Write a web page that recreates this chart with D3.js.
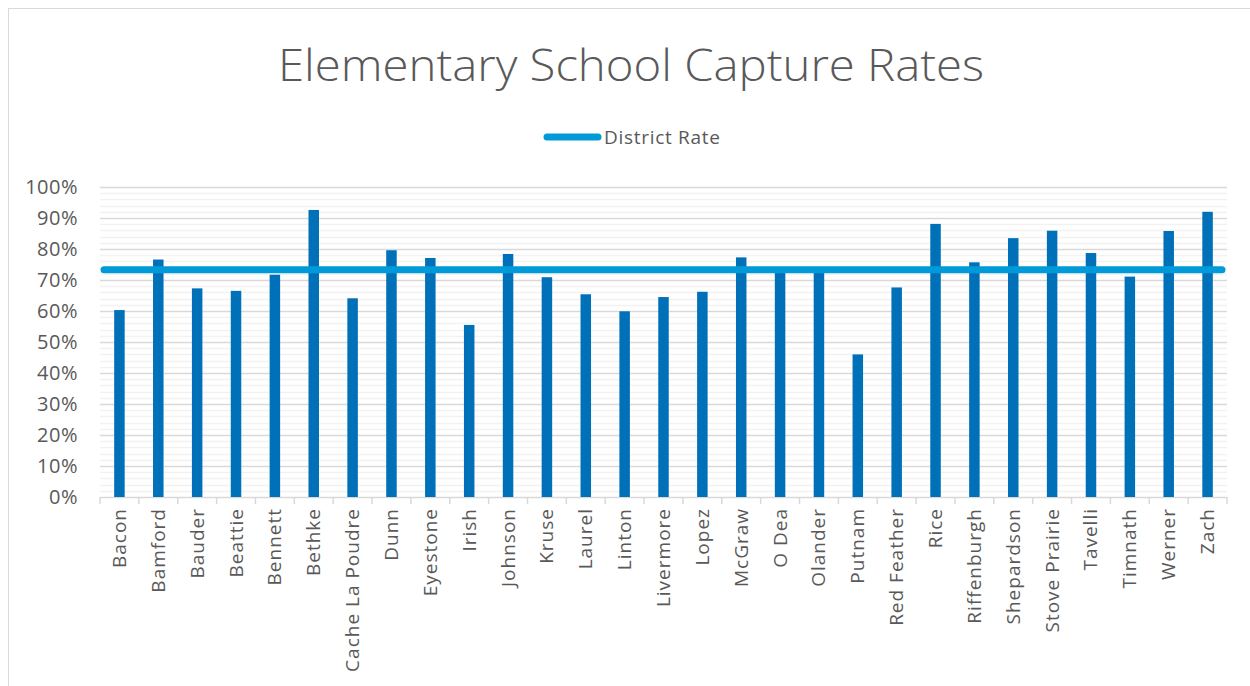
<!DOCTYPE html>
<html>
<head>
<meta charset="utf-8">
<script src="https://cdn.jsdelivr.net/npm/d3@7"></script>
<style>
  html, body { margin: 0; padding: 0; background: #fff; }
  svg { display: block; }
  text { font-family: "Open Sans", "Noto Sans", sans-serif; fill: #595959; }
</style>
</head>
<body>
<svg id="chart" width="1250" height="686"></svg>
<script>
const schools = ["Bacon","Bamford","Bauder","Beattie","Bennett","Bethke","Cache La Poudre","Dunn","Eyestone","Irish","Johnson","Kruse","Laurel","Linton","Livermore","Lopez","McGraw","O Dea","Olander","Putnam","Red Feather","Rice","Riffenburgh","Shepardson","Stove Prairie","Tavelli","Timnath","Werner","Zach"];
const captureRates = [60.3,76.6,67.3,66.5,71.7,92.6,64.1,79.6,77.1,55.5,78.4,70.9,65.4,59.9,64.5,66.2,77.3,73.0,73.0,46.0,67.6,88.1,75.7,83.5,85.9,78.7,71.1,85.8,92.0];
const districtRate = 73.3;
const majorTicks = [0,10,20,30,40,50,60,70,80,90,100];
const minorTicks = d3.range(0, 101, 2);
const titleText = "Elementary School Capture Rates";
const legendLabel = "District Rate";

const svg = d3.select("#chart");
const W = 1250, H = 686;
const plot = {left: 100, right: 1227, top: 187, bottom: 497};

// outer border
svg.append("rect").attr("x", 8.5).attr("y", 8.5).attr("width", W - 8).attr("height", H)
  .attr("fill", "none").attr("stroke", "#d9d9d9").attr("stroke-width", 1);

const x = d3.scaleBand().domain(schools).range([plot.left, plot.right]).paddingInner(0).paddingOuter(0);
const y = d3.scaleLinear().domain([0, 100]).range([plot.bottom, plot.top]);

// minor gridlines
svg.append("g").selectAll("line").data(minorTicks.filter(d => d % 10 !== 0)).join("line")
  .attr("x1", plot.left).attr("x2", plot.right)
  .attr("y1", d => Math.round(y(d)) + 0.5).attr("y2", d => Math.round(y(d)) + 0.5)
  .attr("stroke", "#f2f2f2").attr("stroke-width", 1.5);

// major gridlines
svg.append("g").selectAll("line").data(majorTicks.filter(d => d > 0)).join("line")
  .attr("x1", plot.left).attr("x2", plot.right)
  .attr("y1", d => Math.round(y(d)) + 0.5).attr("y2", d => Math.round(y(d)) + 0.5)
  .attr("stroke", "#d9d9d9").attr("stroke-width", 1.5);

// y axis labels
const yAxis = d3.axisLeft(y).tickValues(majorTicks).tickFormat(d => d + "%").tickSize(0).tickPadding(0);
const yg = svg.append("g").attr("transform", `translate(${plot.left - 22},0)`).call(yAxis);
yg.select(".domain").remove();
yg.selectAll("text").attr("font-size", 20).attr("letter-spacing", 0.5)
  .style("fill", "#595959").attr("font-family", "Open Sans");

// x axis
const xg = svg.append("g").attr("transform", `translate(0,${plot.bottom})`);
xg.append("line").attr("x1", plot.left).attr("x2", plot.right).attr("y1", 0.5).attr("y2", 0.5)
  .attr("stroke", "#d9d9d9").attr("stroke-width", 1.5);
const bounds = schools.map(s => x(s)).concat([plot.right]);
xg.selectAll("line.tick").data(bounds).join("line").attr("class", "tick")
  .attr("x1", d => d).attr("x2", d => d).attr("y1", 0).attr("y2", 7)
  .attr("stroke", "#d9d9d9").attr("stroke-width", 1.5);
xg.selectAll("text").data(schools).join("text")
  .attr("transform", d => `translate(${x(d) + x.bandwidth() / 2 + 6.5},11) rotate(-90)`)
  .attr("text-anchor", "end")
  .attr("font-size", 19)
  .attr("letter-spacing", 1)
  .text(d => d);

// bars
const barW = 10.5;
svg.append("g").selectAll("rect").data(schools).join("rect")
  .attr("x", (d) => x(d) + x.bandwidth() / 2 - barW / 2)
  .attr("width", barW)
  .attr("y", (d, i) => y(captureRates[i]))
  .attr("height", (d, i) => y(0) - y(captureRates[i]))
  .attr("fill", "#0070b8");

// district rate line
svg.append("line")
  .attr("x1", plot.left + 4).attr("x2", plot.right - 5)
  .attr("y1", y(districtRate)).attr("y2", y(districtRate))
  .attr("stroke", "#009ad9").attr("stroke-width", 7).attr("stroke-linecap", "round");

// title
svg.append("text").attr("x", 631).attr("y", 81).attr("text-anchor", "middle")
  .attr("font-size", 45).attr("font-weight", 300)
  .attr("textLength", 706).attr("lengthAdjust", "spacingAndGlyphs")
  .text(titleText);

// legend
svg.append("line").attr("x1", 547).attr("x2", 598).attr("y1", 137).attr("y2", 137)
  .attr("stroke", "#009ad9").attr("stroke-width", 7).attr("stroke-linecap", "round");
svg.append("text").attr("x", 604).attr("y", 144).attr("font-size", 19).attr("letter-spacing", 0.7).text(legendLabel);
</script>
</body>
</html>
